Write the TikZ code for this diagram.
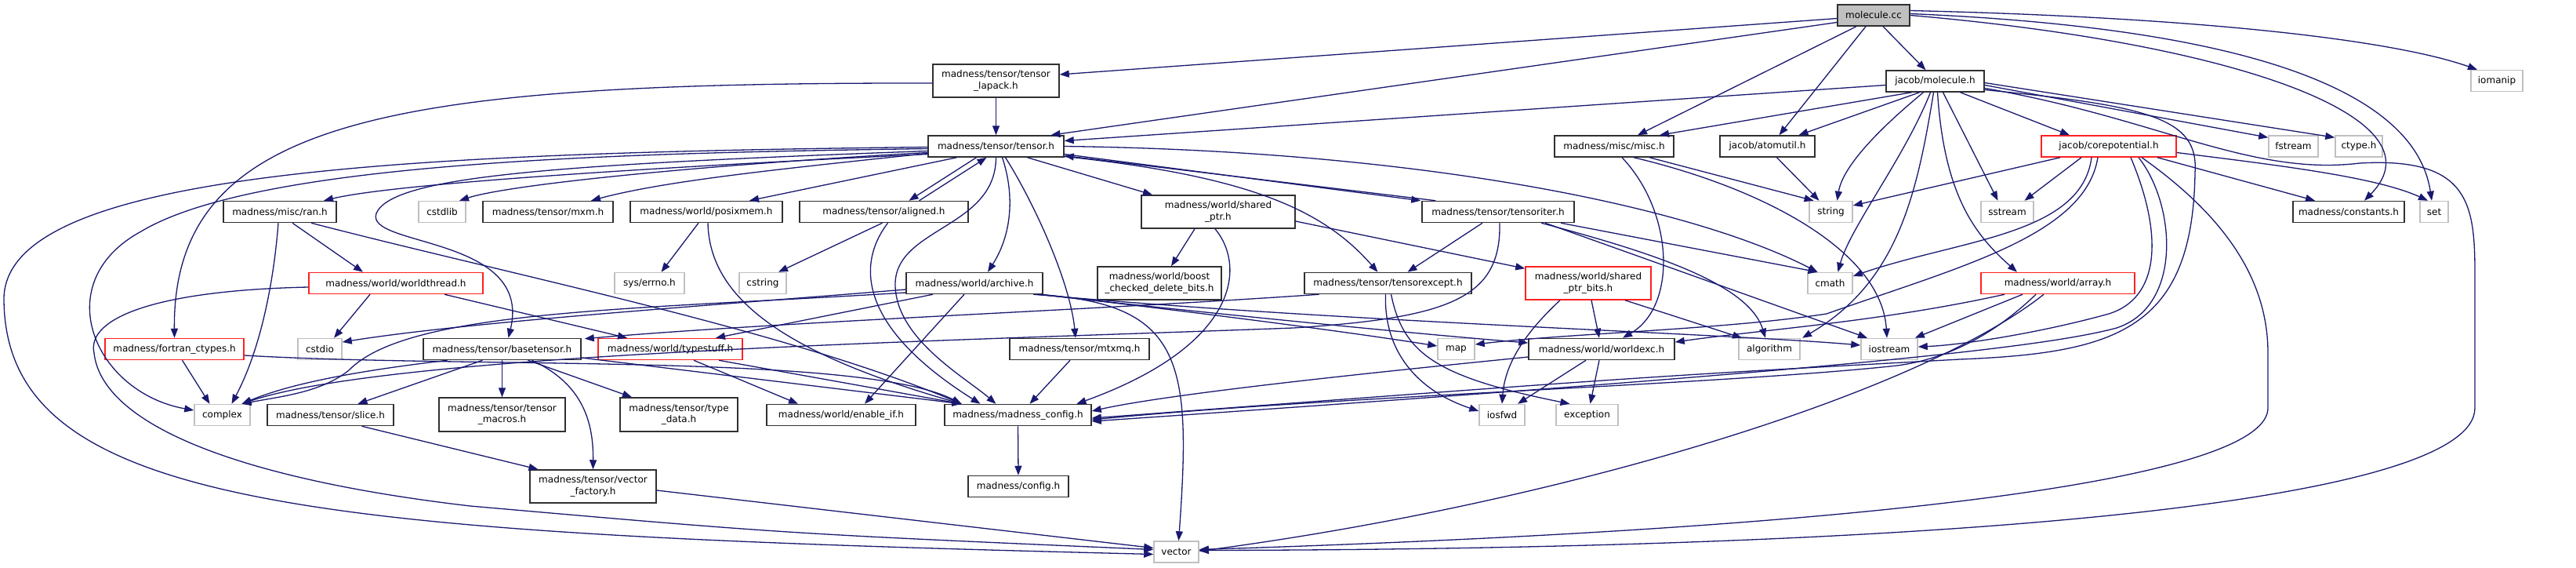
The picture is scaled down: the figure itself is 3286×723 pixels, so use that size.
\documentclass[tikz,border=0pt]{standalone}
\usepackage{fontspec}
\setmainfont{DejaVu Sans}
\usetikzlibrary{arrows.meta}
\definecolor{edgec}{HTML}{191970}
\definecolor{sysgray}{HTML}{C0C0C0}
\definecolor{docgray}{HTML}{303030}
\definecolor{redc}{HTML}{FF2020}
\begin{document}
\begin{tikzpicture}[x=1pt,y=-1pt,
  box/.style={rectangle, inner sep=0pt, minimum height=27pt, line width=1.5pt, align=center, font=\fontsize{12}{14.5}\selectfont, fill=white},
  doc/.style={box, draw=docgray},
  sys/.style={box, draw=sysgray},
  redbox/.style={box, draw=redc},
  dep/.style={draw=edgec, line width=1.3pt, -{Triangle[length=12pt,width=9pt]}}]
\useasboundingbox[fill=white] (0,0) rectangle (3286,723);
% row 0
\node[doc, fill=sysgray, minimum width=92pt] (molcc) at (2390,19.5) {molecule.cc};
% row 1
\node[doc, minimum width=125pt] (molh) at (2468.5,103.5) {jacob/molecule.h};
\node[doc, minimum width=161pt, minimum height=42pt] (lapack) at (1270.5,103) {madness/tensor/tensor\\\_lapack.h};
\node[sys, minimum width=66pt] (iomanip) at (3185,103) {iomanip};
% row 2
\node[doc, minimum width=173pt] (tensor) at (1270.5,186.5) {madness/tensor/tensor.h};
\node[doc, minimum width=152pt] (misc) at (2059,186.5) {madness/misc/misc.h};
\node[doc, minimum width=121pt] (atomutil) at (2254.5,186.5) {jacob/atomutil.h};
\node[redbox, minimum width=172pt] (corepot) at (2690,186.5) {jacob/corepotential.h};
\node[sys, minimum width=63pt] (fstream) at (2925.5,186.5) {fstream};
\node[sys, minimum width=60pt] (ctype) at (3009,186.5) {ctype.h};
% row 3
\node[doc, minimum width=144pt] (ran) at (357,270) {madness/misc/ran.h};
\node[sys, minimum width=60pt] (cstdlib) at (564,270) {cstdlib};
\node[doc, minimum width=166pt] (mxm) at (699,270) {madness/tensor/mxm.h};
\node[doc, minimum width=194pt] (posixmem) at (901,270) {madness/world/posixmem.h};
\node[doc, minimum width=215pt] (aligned) at (1127.5,270) {madness/tensor/aligned.h};
\node[doc, minimum width=196pt, minimum height=42pt] (sharedptr) at (1554,270) {madness/world/shared\\\_ptr.h};
\node[doc, minimum width=194pt] (tensoriter) at (1911,270) {madness/tensor/tensoriter.h};
\node[sys, minimum width=55pt] (string) at (2335.5,270) {string};
\node[sys, minimum width=67pt] (sstream) at (2560.5,270) {sstream};
\node[doc, minimum width=142pt] (constants) at (2996,270) {madness/constants.h};
\node[sys, minimum width=36pt] (set) at (3105,270) {set};
% row 4
\node[redbox, minimum width=222pt] (worldthread) at (505,361) {madness/world/worldthread.h};
\node[sys, minimum width=89pt] (syserrno) at (828.5,361) {sys/errno.h};
\node[sys, minimum width=60pt] (cstring) at (973,361) {cstring};
\node[doc, minimum width=174pt] (archive) at (1243,361) {madness/world/archive.h};
\node[doc, minimum width=158pt, minimum height=42pt] (boost) at (1479,361) {madness/world/boost\\\_checked\_delete\_bits.h};
\node[doc, minimum width=213pt] (tensorexcept) at (1770.5,361) {madness/tensor/tensorexcept.h};
\node[redbox, minimum width=160pt, minimum height=42pt] (sptrbits) at (2026,361) {madness/world/shared\\\_ptr\_bits.h};
\node[sys, minimum width=57pt] (cmath) at (2334.5,361) {cmath};
\node[redbox, minimum width=196pt] (array) at (2625,361) {madness/world/array.h};
% row 5
\node[redbox, minimum width=177pt] (fortran) at (222.5,445) {madness/fortran\_ctypes.h};
\node[sys, minimum width=56pt] (cstdio) at (408,445) {cstdio};
\node[doc, minimum width=201pt] (basetensor) at (640.5,445) {madness/tensor/basetensor.h};
\node[redbox, minimum width=184pt] (typestuff) at (855,445) {madness/world/typestuff.h};
\node[doc, minimum width=178pt] (mtxmq) at (1377,445) {madness/tensor/mtxmq.h};
\node[sys, minimum width=47pt] (map) at (1857.5,445) {map};
\node[doc, minimum width=186pt] (worldexc) at (2043,445) {madness/world/worldexc.h};
\node[sys, minimum width=78pt] (algorithm) at (2257,445) {algorithm};
\node[sys, minimum width=72pt] (iostream) at (2410,445) {iostream};
% row 6
\node[sys, minimum width=71pt] (complex) at (283.5,529) {complex};
\node[doc, minimum width=161pt] (slice) at (421.5,529) {madness/tensor/slice.h};
\node[doc, minimum width=161pt, minimum height=43pt] (tmacros) at (640.5,528.5) {madness/tensor/tensor\\\_macros.h};
\node[doc, minimum width=150pt, minimum height=43pt] (typedata) at (866,528.5) {madness/tensor/type\\\_data.h};
\node[doc, minimum width=190pt] (enableif) at (1073,529) {madness/world/enable\_if.h};
\node[doc, minimum width=187pt] (madcfg) at (1298.5,529) {madness/madness\_config.h};
\node[sys, minimum width=58pt] (iosfwd) at (1916,529) {iosfwd};
\node[sys, minimum width=79pt] (exception) at (2024.5,529) {exception};
% row 7, 8
\node[doc, minimum width=161pt, minimum height=42pt] (vfactory) at (756.5,620) {madness/tensor/vector\\\_factory.h};
\node[doc, minimum width=128pt] (config) at (1299,620) {madness/config.h};
\node[sys, minimum width=57pt] (vector) at (1500.5,703.5) {vector};

% ---------- edges ----------
% molecule.cc
\draw[dep] ([yshift=-4pt]molcc.west) -- ([yshift=8pt]lapack.east);
\draw[dep] ([yshift=-9pt]molcc.west) -- ([xshift=70pt]tensor.north);
\draw[dep] ([xshift=-22pt]molcc.south) -- ([xshift=30pt]misc.north);
\draw[dep] ([xshift=-10pt]molcc.south) -- ([xshift=15pt]atomutil.north);
\draw[dep] ([xshift=12pt]molcc.south) -- ([xshift=-12pt]molh.north);
\draw[dep] ([yshift=6pt]molcc.east) .. controls (2800,22) and (3050,50) .. ([xshift=-25pt]iomanip.north);
\draw[dep] ([yshift=2pt]molcc.east) .. controls (2850,35) and (3080,110) .. ([xshift=-3pt]set.north);
\draw[dep] (molcc.east) .. controls (2850,55) and (3120,150) .. ([xshift=20pt]constants.north);
% lapack
\draw[dep] (lapack.south) -- (tensor.north);
\draw[dep] ([yshift=-3pt]lapack.west) .. controls (500,105) and (220,150) .. (fortran.north);
% tensor
\draw[dep] ([yshift=-10pt]tensor.west) .. controls (800,215) and (500,235) .. ([xshift=56pt]ran.north);
\draw[dep] ([yshift=-8pt]tensor.west) .. controls (900,210) and (650,235) .. ([xshift=22pt]cstdlib.north);
\draw[dep] ([yshift=-9pt]tensor.west) .. controls (1000,215) and (850,230) .. ([xshift=55pt]mxm.north);
\draw[dep] ([xshift=-50pt]tensor.south) -- ([xshift=55pt]posixmem.north);
\draw[dep] ([xshift=-25pt]tensor.south) -- ([xshift=32pt]aligned.north);
\draw[dep] ([xshift=45pt]aligned.north) -- ([xshift=-12pt]tensor.south);
\draw[dep] ([xshift=40pt]tensor.south) -- ([xshift=-84pt]sharedptr.north);
\draw[dep] ([yshift=-10pt]tensor.east) -- ([xshift=-1pt]tensoriter.north west);
\draw[dep] ([xshift=18pt]tensoriter.north west) -- ([yshift=-12pt]tensor.east);
\draw[dep] ([yshift=-13pt]tensor.east) .. controls (1600,225) and (1690,270) .. ([xshift=-13pt]tensorexcept.north);
\draw[dep] ([xshift=8pt]tensor.south) .. controls (1295,250) and (1290,300) .. ([xshift=17pt]archive.north);
\draw[dep] ([xshift=12pt]tensor.south) .. controls (1320,260) and (1365,360) .. ([xshift=-5pt]mtxmq.north);
\draw[dep] (tensor.south) .. controls (1270,290) and (1145,290) .. (1142,360) .. controls (1140,430) and (1230,480) .. ([xshift=-28pt]madcfg.north);
\draw[dep] ([yshift=-6pt]tensor.west) .. controls (700,210) and (500,225) .. (480,272) .. controls (465,315) and (680,300) .. ([xshift=8pt]basetensor.north);
\draw[dep] ([yshift=-3pt]tensor.west) .. controls (800,195) and (330,205) .. (180,295) .. controls (60,360) and (120,500) .. ([yshift=6pt]complex.west);
\draw[dep] ([yshift=-1pt]tensor.west) .. controls (500,195) and (8,220) .. (5,380) .. controls (5,650) and (400,680) .. ([yshift=-3pt]vector.west);
\draw[dep] (tensor.east) .. controls (1800,192) and (2150,260) .. ([xshift=-16pt]cmath.north);
% jacob/molecule.h
\draw[dep] ([yshift=-5pt]molh.west) -- ([yshift=7pt]tensor.east);
\draw[dep] ([xshift=-30pt]molh.south) -- ([xshift=58pt]misc.north);
\draw[dep] ([xshift=-20pt]molh.south) -- ([xshift=40pt]atomutil.north);
\draw[dep] ([xshift=-15pt]molh.south) .. controls (2390,170) and (2350,215) .. ([xshift=8pt]string.north);
\draw[dep] ([xshift=-6pt]molh.south) .. controls (2430,200) and (2360,290) .. ([xshift=10pt]cmath.north);
\draw[dep] ([xshift=-2pt]molh.south) .. controls (2445,250) and (2420,360) .. ([xshift=42pt]algorithm.north);
\draw[dep] ([xshift=3pt]molh.south) .. controls (2480,250) and (2520,300) .. ([xshift=-52pt]array.north);
\draw[dep] ([xshift=10pt]molh.south) -- ([xshift=-12pt]sstream.north);
\draw[dep] ([xshift=32pt]molh.south) -- ([xshift=-50pt]corepot.north);
\draw[dep] ([yshift=-2pt]molh.east) -- ([yshift=-3pt]ctype.north west);
\draw[dep] ([yshift=-5pt]molh.east) -- ([yshift=-3pt]fstream.north west);
\draw[dep] ([yshift=-9pt]molh.east) .. controls (2750,150) and (2870,225) .. (3010,208) .. controls (3150,200) and (3157,260) .. (3157,350) -- (3157,520) .. controls (3157,640) and (2500,700) .. ([yshift=2pt]vector.east);
\draw[dep] ([yshift=-11pt]molh.east) .. controls (2740,135) and (2805,150) .. (2800,220) .. controls (2797,420) and (2700,450) .. (2500,458) .. controls (2100,480) .. ([yshift=-4pt]madcfg.east);
% corepotential
\draw[dep] ([xshift=-62pt]corepot.south) -- ([yshift=8pt]string.east);
\draw[dep] ([xshift=-35pt]corepot.south) -- ([xshift=22pt]sstream.north);
\draw[dep] ([xshift=-22pt]corepot.south) .. controls (2655,300) and (2500,305) .. ([yshift=9pt]cmath.east);
\draw[dep] ([xshift=-14pt]corepot.south) .. controls (2660,300) and (2500,340) .. (2330,400) .. controls (2200,420) and (2000,425) .. ([yshift=6pt]map.east);
\draw[dep] ([xshift=28pt]corepot.south) .. controls (2760,300) and (2755,380) .. (2690,400) .. controls (2600,425) and (2500,440) .. ([yshift=3pt]iostream.east);
\draw[dep] ([xshift=38pt]corepot.south) .. controls (2775,260) and (2785,390) .. (2700,418) .. controls (2600,445) and (2300,475) .. ([yshift=-8pt]madcfg.east);
\draw[dep] ([xshift=42pt]corepot.south) .. controls (2830,270) and (2893,350) .. (2893,450) -- (2893,520) .. controls (2893,600) and (2500,670) .. ([yshift=3pt]vector.east);
\draw[dep] ([xshift=62pt]corepot.south) -- ([xshift=-43pt]constants.north);
\draw[dep] ([yshift=-8pt]corepot.east) .. controls (2900,210) and (3030,225) .. ([xshift=-8pt]set.north);
% misc, atomutil
\draw[dep] ([xshift=45pt]misc.south) -- ([xshift=-22pt]string.north);
\draw[dep] ([xshift=25pt]misc.south) .. controls (2250,240) and (2400,320) .. ([xshift=-3pt]iostream.north);
\draw[dep] ([xshift=10pt]misc.south) .. controls (2135,270) and (2140,390) .. ([xshift=27pt]worldexc.north);
\draw[dep] ([xshift=12pt]atomutil.south) -- ([xshift=-15pt]string.north);
% ran
\draw[dep] ([xshift=16pt]ran.south) -- ([xshift=-42pt]worldthread.north);
\draw[dep] ([xshift=-2pt]ran.south) .. controls (350,350) and (335,440) .. ([xshift=12pt]complex.north);
\draw[dep] ([xshift=40pt]ran.south) .. controls (650,350) and (1000,420) .. ([xshift=-72pt]madcfg.north);
% posixmem, aligned, shared_ptr
\draw[dep] ([xshift=-10pt]posixmem.south) -- ([xshift=15pt]syserrno.north);
\draw[dep] ([xshift=2pt]posixmem.south) .. controls (905,380) and (1000,450) .. ([xshift=-72pt]madcfg.north);
\draw[dep] ([xshift=-2pt]aligned.south) -- ([xshift=20pt]cstring.north);
\draw[dep] ([xshift=5pt]aligned.south) .. controls (1090,340) and (1100,420) .. ([xshift=-48pt]madcfg.north);
\draw[dep] ([xshift=-30pt]sharedptr.south) -- ([xshift=15pt]boost.north);
\draw[dep] ([xshift=-4pt]sharedptr.south) .. controls (1590,340) and (1580,440) .. ([xshift=75pt]madcfg.north);
\draw[dep] ([yshift=-12pt]sharedptr.east) -- ([yshift=-3pt]sptrbits.north west);
% tensoriter
\draw[dep] ([xshift=-20pt]tensoriter.south) -- ([xshift=25pt]tensorexcept.north);
\draw[dep] ([xshift=2pt]tensoriter.south) .. controls (1915,380) and (1850,405) .. (1650,418) .. controls (1200,435) and (500,450) .. ([xshift=25pt]complex.north);
\draw[dep] ([xshift=80pt]tensoriter.south) -- ([xshift=-16pt]cmath.north);
\draw[dep] ([xshift=55pt]tensoriter.south) .. controls (2100,320) and (2230,360) .. ([xshift=-5pt]algorithm.north);
\draw[dep] ([xshift=60pt]tensoriter.south) -- ([xshift=-28pt]iostream.north);
% tensorexcept
\draw[dep] ([xshift=-3pt]tensorexcept.south) .. controls (1765,440) and (1800,495) .. ([yshift=5pt]iosfwd.west);
\draw[dep] ([xshift=4pt]tensorexcept.south) .. controls (1790,450) and (1830,480) .. ([xshift=-22pt]exception.north);
\draw[dep] ([xshift=-88pt]tensorexcept.south) .. controls (1400,395) and (1000,410) .. ([xshift=4pt,yshift=-1pt]basetensor.north east);
% shared_ptr_bits
\draw[dep] ([xshift=-36pt]sptrbits.south) .. controls (1950,420) and (1920,460) .. (iosfwd.north);
\draw[dep] ([xshift=4pt]sptrbits.south) -- ([xshift=-3pt]worldexc.north);
\draw[dep] ([xshift=47pt]sptrbits.south) -- ([xshift=-35pt]algorithm.north);
% archive
\draw[dep] ([xshift=-13pt]archive.south) -- ([xshift=30pt]enableif.north);
\draw[dep] ([yshift=-8pt]archive.west) .. controls (900,390) and (600,410) .. ([yshift=9pt]cstdio.east);
\draw[dep] ([xshift=-53pt]archive.south) -- ([xshift=58pt]typestuff.north);
\draw[dep] ([yshift=-12pt]archive.west) .. controls (800,395) and (520,395) .. (445,472) .. controls (410,500) and (360,505) .. ([xshift=25pt]complex.north);
\draw[dep] ([xshift=75pt]archive.south) .. controls (1510,385) and (1520,460) .. ([xshift=3pt]vector.north);
\draw[dep] ([xshift=-2pt]archive.south east) .. controls (1500,395) and (1700,420) .. ([yshift=4pt]map.west);
\draw[dep] ([xshift=-6pt]archive.south east) .. controls (1550,400) and (1800,425) .. ([yshift=8pt]worldexc.west);
\draw[dep] ([xshift=-10pt]archive.south east) .. controls (1700,410) and (2200,425) .. ([yshift=5pt]iostream.west);
% worldthread
\draw[dep] ([xshift=-33pt]worldthread.south) -- ([xshift=18pt]cstdio.north);
\draw[dep] ([xshift=62pt]worldthread.south) -- ([xshift=-55pt]typestuff.north);
\draw[dep] ([yshift=-5pt]worldthread.west) .. controls (200,370) and (110,405) .. (120,450) .. controls (130,540) and (300,610) .. (600,645) .. controls (1000,680) .. ([yshift=3pt]vector.west);
% typestuff, fortran
\draw[dep] ([xshift=30pt]typestuff.south) -- ([xshift=-55pt]enableif.north);
\draw[dep] ([xshift=62pt]typestuff.south) -- ([xshift=-72pt]madcfg.north);
\draw[dep] ([xshift=10pt]fortran.south) -- ([xshift=-16pt]complex.north);
\draw[dep] ([yshift=-8pt]fortran.east) .. controls (600,470) and (1100,450) .. ([xshift=-72pt]madcfg.north);
% basetensor
\draw[dep] (basetensor.south) -- (tmacros.north);
\draw[dep] ([xshift=33pt]basetensor.south) -- ([xshift=-60pt]typedata.north);
\draw[dep] ([xshift=38pt]basetensor.south) .. controls (745,490) and (757,540) .. (vfactory.north);
\draw[dep] ([xshift=-25pt]basetensor.south) -- ([xshift=35pt]slice.north);
\draw[dep] ([xshift=-70pt]basetensor.south) .. controls (480,470) and (380,485) .. ([xshift=25pt]complex.north);
\draw[dep] ([yshift=-11pt]basetensor.east) -- ([xshift=-72pt]madcfg.north);
% mtxmq, worldexc
\draw[dep] ([xshift=-12pt]mtxmq.south) -- ([xshift=15pt]madcfg.north);
\draw[dep] ([xshift=-20pt]worldexc.south) -- ([xshift=20pt]iosfwd.north);
\draw[dep] ([xshift=-3pt]worldexc.south) -- ([xshift=4pt]exception.north);
\draw[dep] ([yshift=-10pt]worldexc.west) .. controls (1800,470) and (1500,500) .. ([yshift=5pt]madcfg.east);
% array
\draw[dep] ([xshift=-68pt]array.south) .. controls (2400,410) and (2250,420) .. ([yshift=9pt]worldexc.east);
\draw[dep] ([xshift=-45pt]array.south) -- ([xshift=-4pt]iostream.north east);
\draw[dep] ([xshift=-28pt]array.south) .. controls (2540,430) and (2480,458) .. (2420,466) .. controls (2200,490) and (1700,505) .. ([yshift=-6pt]madcfg.east);
\draw[dep] ([xshift=-18pt]array.south) .. controls (2450,500) and (2000,640) .. ([yshift=1pt]vector.east);
% slice, vector_factory, madness_config
\draw[dep] ([xshift=40pt]slice.south) -- ([xshift=-70pt]vfactory.north);
\draw[dep] ([yshift=-5pt]vfactory.east) -- ([yshift=5pt]vector.west);
\draw[dep] (madcfg.south) -- (config.north);
\end{tikzpicture}
\end{document}
